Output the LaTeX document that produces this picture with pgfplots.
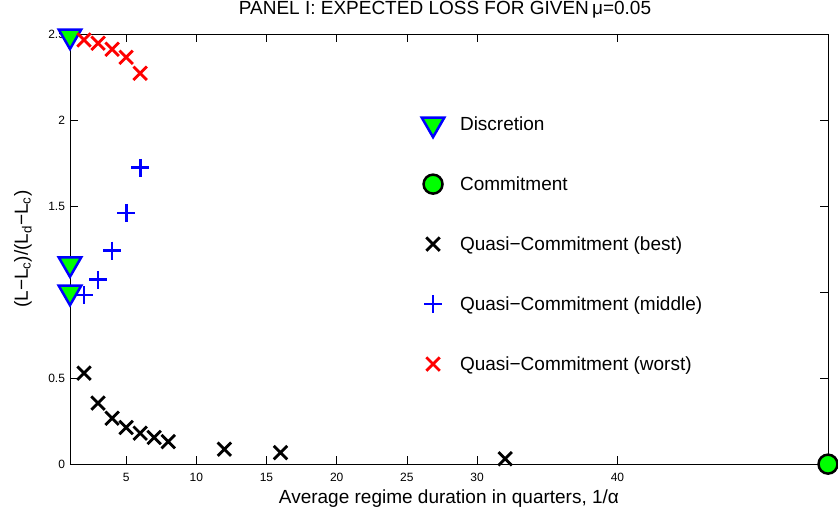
\documentclass[border=0pt]{standalone}
\usepackage{pgfplots}
\pgfplotsset{compat=1.18}
\usepackage{fontspec}
\setmainfont{Liberation Sans}
\definecolor{mgreen}{rgb}{0,1,0}
\definecolor{mblue}{rgb}{0,0,1}
\definecolor{mred}{rgb}{1,0,0}
\pgfplotsset{
  lim/.style={legend image code/.code={\draw[##1] plot coordinates {(0pt,0pt)}; \path[draw=none, fill=none] (-14pt,-14pt) rectangle (27pt,14pt);}},
}
\begin{document}
\begin{tikzpicture}
\begin{axis}[
  at={(0,0)}, anchor=south west,
  scale only axis, width=758.3pt, height=430pt,
  xmin=1, xmax=55, ymin=0, ymax=2.5,
  clip=false,
  xtick={5,10,15,20,25,30,40},
  ytick={0,0.5,1,1.5,2,2.5},
  yticklabels={0,0.5,,1.5,2,2.5},
  tick align=inside, major tick length=8pt,
  tick style={black, line width=0.6pt},
  axis line style={line width=0.8pt},
  /pgf/number format/assume math mode=true,
  ticklabel style={font=\fontsize{12}{14}\selectfont},
  xticklabel style={anchor=base, yshift=-17.4pt},
  yticklabel style={anchor=east, xshift=-1.5pt},
  title={PANEL I: EXPECTED LOSS FOR GIVEN\,μ=0.05},
  title style={at={(axis description cs:0.5,1)}, anchor=base, yshift=13.8pt, xshift=-4pt, font=\fontsize{19}{22}\selectfont},
  xlabel={Average regime duration in quarters, 1/α},
  xlabel style={at={(axis description cs:0.5,0)}, anchor=base, yshift=-39pt, font=\fontsize{19}{22}\selectfont},
  ylabel={(L−L\textsubscript{c})/(L\textsubscript{d}−L\textsubscript{c})},
  every axis y label/.style={at={(axis description cs:0,0.5)}, xshift=-42pt, rotate=90, anchor=base, font=\fontsize{19}{22}\selectfont},
  legend style={draw=none, fill=none, at={(axis cs:1,0)}, anchor=north west,
    xshift=346pt, yshift=356.3pt, row sep=32pt,
    nodes={inner sep=0pt, font=\fontsize{19}{22}\selectfont}},
  legend cell align=left,
]
\addplot[only marks, mark=triangle*, mark size=13pt, mark options={rotate=180, fill=mgreen, draw=mblue, line width=2.5pt, line join=miter}, lim]
  coordinates {(1,2.49) (1,1.165) (1,1.0)};
\addlegendentry{Discretion}
\addplot[only marks, mark=*, mark size=9.5pt, mark options={fill=mgreen, draw=black, line width=2.5pt}, lim]
  coordinates {(55,0)};
\addlegendentry{Commitment}
\addplot[only marks, mark=x, mark size=9.5pt, mark options={draw=black, line width=2.8pt}, lim]
  coordinates {(2,0.529) (3,0.355) (4,0.267) (5,0.213) (6,0.180) (7,0.155) (8,0.131) (12,0.087) (16,0.067) (32,0.031)};
\addlegendentry{Quasi−Commitment (best)}
\addplot[only marks, mark=+, mark size=9pt, mark options={draw=mblue, line width=2.8pt}, lim]
  coordinates {(2,0.984) (3,1.072) (4,1.242) (5,1.461) (6,1.723)};
\addlegendentry{Quasi−Commitment (middle)}
\addplot[only marks, mark=x, mark size=9.5pt, mark options={draw=mred, line width=2.8pt}, lim]
  coordinates {(2,2.467) (3,2.448) (4,2.413) (5,2.366) (6,2.273)};
\addlegendentry{Quasi−Commitment (worst)}
\end{axis}
\pgfresetboundingbox
\path[use as bounding box] (-70pt,-48.7pt) rectangle (768.3pt,464.3pt);
\end{tikzpicture}
\end{document}
